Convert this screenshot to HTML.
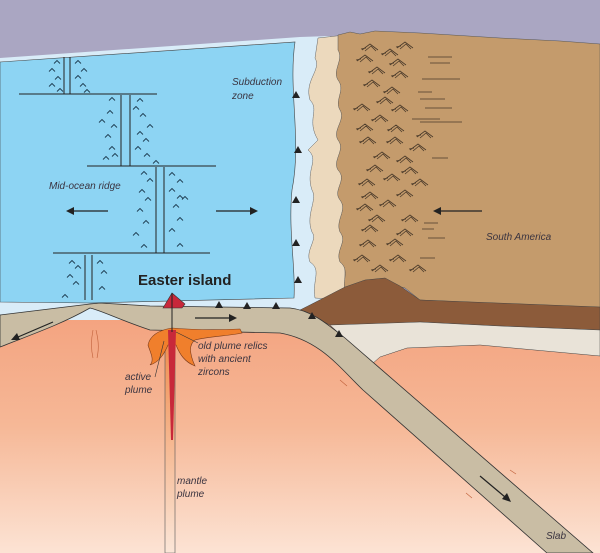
<!DOCTYPE html>
<html><head><meta charset="utf-8"><style>
html,body{margin:0;padding:0;background:#fff}
svg{display:block}
text{font-family:"Liberation Sans",sans-serif;font-style:italic;fill:#3a3440;font-size:10px}
</style></head><body>
<svg width="600" height="553" viewBox="0 0 600 553" xmlns="http://www.w3.org/2000/svg">
<defs>
<linearGradient id="m" x1="0" y1="0" x2="0" y2="1">
<stop offset="0" stop-color="#f3a07c"/><stop offset="0.5" stop-color="#f6b897"/><stop offset="1" stop-color="#fce3d4"/>
</linearGradient>
<linearGradient id="st" x1="0" y1="0" x2="0" y2="1">
<stop offset="0" stop-color="#f08a4a"/><stop offset="1" stop-color="#fbe6d8"/>
</linearGradient>
<g id="f"><path d="M-8,3 L0,-3 L8,3 M-5,4 L1,-1 L6,4 M-9,2 L-4,1" fill="none" stroke="#4a3a2a" stroke-width="0.8"/></g>
<g id="c"><path d="M-3,1.5 L0,-1.5 L3,1.5" fill="none" stroke="#1d3b50" stroke-width="0.9"/></g>
<g id="t"><path d="M-4,3 L0,-4 L4,3 Z" fill="#222"/></g>
</defs>
<!-- sky -->
<rect width="600" height="553" fill="#aaa6c2"/>
<!-- mantle -->
<rect y="300" width="600" height="253" fill="url(#m)"/>
<!-- ocean light blue -->
<path d="M0,58 L300,37 L330,36 L330,320 L0,320 Z" fill="#d9ecf8"/>
<!-- ocean blue -->
<path d="M0,62 L295,42 C288,90 302,140 292,190 C288,230 296,270 294,298 L90,303 L0,302 Z" fill="#8dd4f3" stroke="#444" stroke-width="0.6"/>
<!-- beige strip -->
<path d="M318,38 L345,35 L345,300 L315,298 C312,280 322,270 310,262 C305,250 318,240 312,232 C305,215 318,200 312,190 C305,170 320,160 308,150 L318,140 C306,120 320,110 310,100 C304,80 322,70 315,58 Z" fill="#ecd9bd" stroke="#666" stroke-width="0.5"/>
<!-- brown land -->
<path d="M338,35 L350,32 L360,34 L375,31 L420,33 L500,38 L560,41 L600,44 L600,308 L420,300 L405,288 L390,284 L370,290 L345,292 C342,280 350,270 340,262 C335,250 348,242 340,232 C335,220 348,210 340,200 C332,190 348,180 338,170 C332,160 346,150 338,140 C332,130 346,120 340,110 C334,100 346,90 338,80 C332,70 344,60 338,50 Z" fill="#c49b6c" stroke="#555" stroke-width="0.5"/>
<!-- dark brown wedge -->
<path d="M300,310 C320,300 335,292 345,287 L365,280 L385,278 L400,286 L420,300 L600,307 L600,330 L500,326 L420,322 L370,326 L330,325 Z" fill="#8c5b3a" stroke="#444" stroke-width="0.5"/>
<!-- light gray band -->
<path d="M330,325 L420,322 L500,326 L600,330 L600,356 L480,345 L407,348 L380,357 L372,364 Z" fill="#e9e3d8" stroke="#444" stroke-width="0.5"/>
<!-- plate + slab -->
<path d="M0,315 L90,304 L100,303 L150,306 L290,308 C310,310 325,322 345,338 L593,553 L547,553 L363,390 C340,368 320,340 280,333 L150,330 C120,320 100,310 90,308 C60,325 30,335 0,347 Z" fill="#c9bda4" stroke="#333" stroke-width="0.8"/>
<!-- plume stem -->
<path d="M165,335 L175,335 L175,553 L165,553 Z" fill="url(#st)" stroke="#555" stroke-width="0.6"/>
<!-- plume head -->
<path d="M172,328 C160,330 150,335 148,345 C150,352 155,360 150,365 C160,362 165,352 168,345 L176,345 C180,355 185,362 195,366 C190,355 188,345 195,340 C210,336 230,336 242,333 L240,329 C220,330 195,330 172,328 Z" fill="#f07f2c" stroke="#7a3a1a" stroke-width="0.6"/>
<path d="M168,330 L176,330 L173,440 L171,440 Z" fill="#c8283a"/>
<!-- island -->
<path d="M163,308 L172,293 L185,304 L182,308 Z" fill="#c8283a" stroke="#333" stroke-width="0.6"/>
<line x1="172" y1="293" x2="172" y2="332" stroke="#222" stroke-width="1"/>
<use href="#t" x="219" y="305"/><use href="#t" x="247" y="306"/><use href="#t" x="276" y="306"/>
<use href="#t" x="312" y="316"/><use href="#t" x="339" y="334"/>
<use href="#t" x="296" y="95"/><use href="#t" x="298" y="150"/><use href="#t" x="296" y="200"/><use href="#t" x="296" y="243"/><use href="#t" x="298" y="280"/>
<!-- ridge lines -->
<g stroke="#222" stroke-width="1" fill="none">
<path d="M64,57 V94 M70,57 V94 M19,94 H157"/>
<path d="M121,95 V166 M130,95 V166 M87,166 H216"/>
<path d="M156,167 V253 M164,167 V253 M53,253 H210"/>
<path d="M85,255 V300 M92,255 V300"/>
</g>
<g>
<use href="#c" x="57" y="62"/><use href="#c" x="52" y="70"/><use href="#c" x="58" y="78"/><use href="#c" x="52" y="85"/><use href="#c" x="60" y="90"/>
<use href="#c" x="78" y="62"/><use href="#c" x="84" y="70"/><use href="#c" x="78" y="77"/><use href="#c" x="83" y="85"/><use href="#c" x="87" y="91"/>
<use href="#c" x="112" y="99"/><use href="#c" x="110" y="112"/><use href="#c" x="102" y="121"/><use href="#c" x="114" y="126"/><use href="#c" x="108" y="136"/><use href="#c" x="112" y="148"/><use href="#c" x="106" y="158"/><use href="#c" x="115" y="155"/>
<use href="#c" x="140" y="100"/><use href="#c" x="136" y="108"/><use href="#c" x="143" y="115"/><use href="#c" x="150" y="126"/><use href="#c" x="140" y="133"/><use href="#c" x="146" y="140"/><use href="#c" x="138" y="148"/><use href="#c" x="147" y="155"/><use href="#c" x="156" y="162"/>
<use href="#c" x="144" y="173"/><use href="#c" x="150" y="180"/><use href="#c" x="142" y="191"/><use href="#c" x="148" y="199"/><use href="#c" x="140" y="210"/><use href="#c" x="146" y="222"/><use href="#c" x="136" y="234"/><use href="#c" x="144" y="246"/>
<use href="#c" x="172" y="174"/><use href="#c" x="180" y="181"/><use href="#c" x="172" y="190"/><use href="#c" x="180" y="197"/><use href="#c" x="176" y="206"/><use href="#c" x="180" y="219"/><use href="#c" x="172" y="230"/><use href="#c" x="180" y="245"/><use href="#c" x="185" y="198"/>
<use href="#c" x="72" y="262"/><use href="#c" x="78" y="267"/><use href="#c" x="70" y="276"/><use href="#c" x="76" y="283"/><use href="#c" x="65" y="296"/><use href="#c" x="100" y="262"/><use href="#c" x="104" y="272"/><use href="#c" x="102" y="288"/>
</g>
<!-- arrows -->
<g stroke="#222" stroke-width="1.2" fill="#222">
<line x1="108" y1="211" x2="72" y2="211"/><path d="M66,211 L74,207 L74,215 Z" stroke="none"/>
<line x1="216" y1="211" x2="252" y2="211"/><path d="M258,211 L250,207 L250,215 Z" stroke="none"/>
<line x1="482" y1="211" x2="440" y2="211"/><path d="M433,211 L441,207 L441,215 Z" stroke="none"/>
<line x1="195" y1="318" x2="230" y2="318"/><path d="M237,318 L229,314 L229,322 Z" stroke="none"/>
<line x1="53" y1="322" x2="18" y2="337"/><path d="M11,340 L17,333 L20,340 Z" stroke="none"/>
<line x1="480" y1="476" x2="505" y2="497"/><path d="M511,502 L502,499 L507,493 Z" stroke="none"/>
</g>
<g stroke="#c0603a" stroke-width="0.6" fill="none">
<path d="M93,358 C90,345 92,335 93,330 M97,358 C100,345 97,335 96,330"/>
<path d="M340,380 L347,386 M466,493 L472,498 M510,470 L516,474"/>
</g>
<!-- faults -->
<g>
<use href="#f" x="370" y="47"/><use href="#f" x="405" y="45"/><use href="#f" x="390" y="52"/>
<use href="#f" x="365" y="58"/><use href="#f" x="398" y="62"/><use href="#f" x="377" y="70"/><use href="#f" x="400" y="74"/>
<use href="#f" x="372" y="83"/><use href="#f" x="392" y="90"/><use href="#f" x="385" y="100"/><use href="#f" x="362" y="107"/><use href="#f" x="400" y="108"/>
<use href="#f" x="380" y="118"/><use href="#f" x="365" y="127"/><use href="#f" x="396" y="128"/><use href="#f" x="425" y="134"/>
<use href="#f" x="368" y="140"/><use href="#f" x="395" y="140"/><use href="#f" x="418" y="147"/><use href="#f" x="382" y="155"/><use href="#f" x="405" y="159"/>
<use href="#f" x="375" y="168"/><use href="#f" x="410" y="170"/><use href="#f" x="392" y="177"/><use href="#f" x="367" y="182"/><use href="#f" x="420" y="182"/>
<use href="#f" x="370" y="195"/><use href="#f" x="405" y="193"/><use href="#f" x="365" y="207"/><use href="#f" x="388" y="203"/>
<use href="#f" x="377" y="218"/><use href="#f" x="410" y="218"/><use href="#f" x="370" y="228"/><use href="#f" x="405" y="232"/>
<use href="#f" x="368" y="243"/><use href="#f" x="395" y="242"/><use href="#f" x="362" y="258"/><use href="#f" x="398" y="258"/><use href="#f" x="380" y="268"/><use href="#f" x="418" y="268"/>
</g>
<g stroke="#4a3a2a" stroke-width="0.8">
<path d="M428,57 H452 M430,63 H450 M422,79 H460 M418,92 H432 M420,99 H445 M425,108 H452 M412,119 H440 M420,122 H462 M432,158 H448 M424,223 H438 M422,229 H434 M428,238 H445 M420,258 H435"/>
</g>
<!-- labels -->
<text x="49" y="189">Mid-ocean ridge</text>
<text x="232" y="85">Subduction</text>
<text x="232" y="99">zone</text>
<text x="486" y="240">South America</text>
<text x="546" y="539">Slab</text>
<text x="198" y="349">old plume relics</text>
<text x="198" y="362">with ancient</text>
<text x="198" y="375">zircons</text>
<text x="125" y="380">active</text>
<text x="125" y="393">plume</text>
<text x="177" y="484">mantle</text>
<text x="177" y="497">plume</text>
<line x1="155" y1="377" x2="164" y2="341" stroke="#333" stroke-width="0.6"/>
<line x1="198" y1="343" x2="176" y2="332" stroke="#333" stroke-width="0.6"/>
<text x="138" y="285" style="font-style:normal;font-weight:bold;font-size:15px;fill:#222">Easter island</text>
</svg>
</body></html>
